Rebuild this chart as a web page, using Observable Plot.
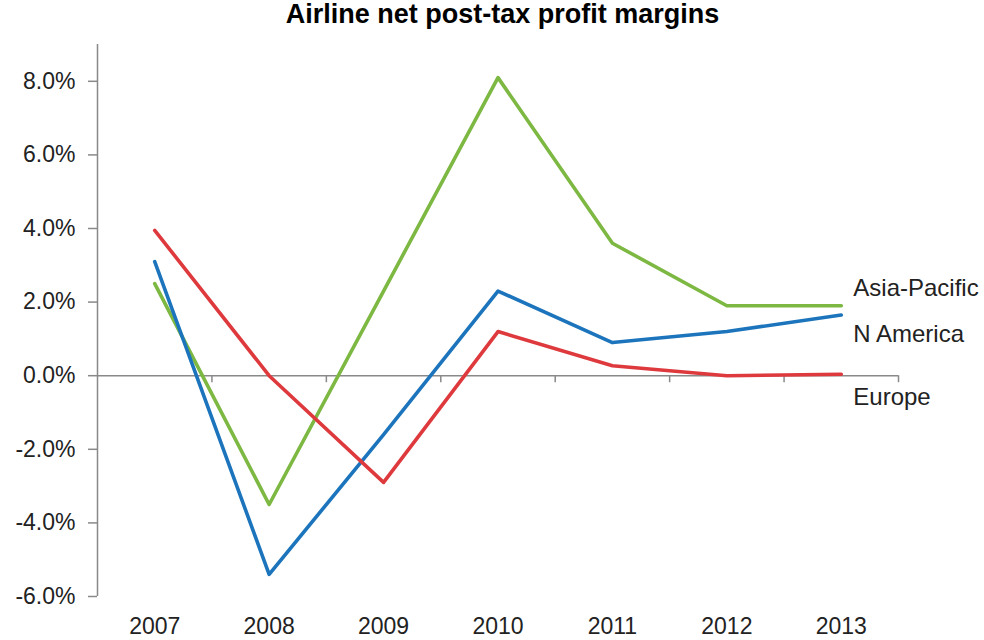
<!DOCTYPE html>
<html>
<head>
<meta charset="utf-8">
<script src="https://cdn.jsdelivr.net/npm/d3@7"></script>
<script src="https://cdn.jsdelivr.net/npm/@observablehq/plot@0.6"></script>
<style>
  html, body { margin: 0; padding: 0; background: #fff; }
  #wrap { width: 984px; height: 640px; position: relative; overflow: hidden; }
  #title {
    width: 984px; box-sizing: border-box; padding-left: 21px;
    height: 36px; line-height: 28px; text-align: center;
    font-family: "Liberation Sans", Arial, sans-serif; font-weight: bold;
    font-size: 27px; color: #000;
  }
</style>
</head>
<body>
<div id="wrap">
  <div id="title">Airline net post-tax profit margins</div>
  <div id="chart"></div>
</div>
<script>
// Data (percent)
const years = [2007, 2008, 2009, 2010, 2011, 2012, 2013];
const asiaPacific = [2.5, -3.5, 2.3, 8.1, 3.6, 1.9, 1.9];
const nAmerica = [3.1, -5.4, -1.6, 2.3, 0.9, 1.2, 1.65];
const europe = [3.95, 0.0, -2.9, 1.2, 0.27, 0.0, 0.04];
const seriesNames = ["Asia-Pacific", "N America", "Europe"];
const seriesColors = ["#7DB843", "#1C75BC", "#DE3A3E"];
const yTicks = [-6, -4, -2, 0, 2, 4, 6, 8];

const seriesValues = [asiaPacific, nAmerica, europe];
const rows = seriesNames.flatMap((name, s) =>
  years.map((year, i) => ({ series: name, year, value: seriesValues[s][i] })));
const lastRows = seriesNames.map((name, s) =>
  ({ series: name, year: years[years.length - 1], value: seriesValues[s][years.length - 1] }));
const boundaries = years.map(y => y + 0.5);
const axisGray = "#898989";
const labelDy = [-17, 19, 23];

const chart = Plot.plot({
  width: 984,
  height: 604,
  marginTop: 8,
  marginBottom: 44,
  marginLeft: 97,
  marginRight: 86,
  style: { fontFamily: "Liberation Sans, Arial, sans-serif", fontSize: "23px", color: "#222", background: "#fff" },
  x: { type: "linear", domain: [years[0] - 0.5, years[years.length - 1] + 0.5] },
  y: { domain: [-6, 9] },
  marks: [
    Plot.ruleX([years[0] - 0.5], { stroke: axisGray, strokeWidth: 1.5 }),
    Plot.ruleY([0], { stroke: axisGray, strokeWidth: 1.5 }),
    Plot.ruleX(boundaries, { x: d => d, y1: 0, y2: 0, insetTop: 0, insetBottom: -7, stroke: axisGray, strokeWidth: 1.5 }),
    Plot.axisY({ ticks: yTicks, tickFormat: d => d.toFixed(1) + "%", tickSize: 9, tickPadding: 13, stroke: axisGray, strokeWidth: 1.5, fontSize: 23, label: null }),
    Plot.axisX({ ticks: years, tickFormat: d => String(d), tickSize: 0, tickPadding: 21, fontSize: 23, label: null }),
    ...seriesNames.map((name, s) =>
      Plot.line(rows.filter(r => r.series === name), {
        x: "year", y: "value", stroke: seriesColors[s], strokeWidth: 3.6, strokeLinejoin: "round", strokeLinecap: "round"
      })),
    ...seriesNames.map((name, s) =>
      Plot.text(lastRows.filter(r => r.series === name), {
        x: "year", y: "value", text: "series", textAnchor: "start", dx: 12, dy: labelDy[s],
        fontSize: 24, fill: "#222"
      }))
  ]
});
document.getElementById("chart").appendChild(chart);
</script>
</body>
</html>
